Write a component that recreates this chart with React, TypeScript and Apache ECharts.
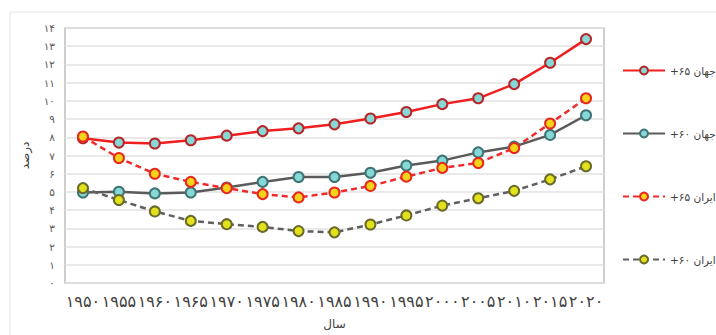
import React, { useEffect, useRef } from "react";
import * as echarts from "echarts";

// Share of elderly population (%), 1950–2020
const years = ["1950", "1955", "1960", "1965", "1970", "1975", "1980", "1985", "1990", "1995", "2000", "2005", "2010", "2015", "2020"];
const world65 = [7.95, 7.71, 7.66, 7.84, 8.09, 8.34, 8.49, 8.71, 9.03, 9.39, 9.82, 10.14, 10.92, 12.09, 13.39];
const world60 = [4.97, 5.01, 4.92, 4.97, 5.24, 5.55, 5.82, 5.82, 6.05, 6.45, 6.72, 7.17, 7.49, 8.13, 9.21];
const iran65 = [8.04, 6.86, 6.0, 5.55, 5.21, 4.88, 4.7, 4.97, 5.33, 5.84, 6.32, 6.59, 7.41, 8.76, 10.14];
const iran60 = [5.21, 4.56, 3.93, 3.41, 3.23, 3.08, 2.85, 2.78, 3.21, 3.71, 4.25, 4.65, 5.06, 5.69, 6.41];

const RLM = "\u200F";
const seriesNames = ["جهان ۶۵+", "جهان ۶۰+", "ایران ۶۵+", "ایران ۶۰+"].map((s) => s + RLM);

const FONT = "'DejaVu Sans', sans-serif";
const faDigits = (v: string | number) =>
  String(v).replace(/[0-9]/g, (d) => "۰۱۲۳۴۵۶۷۸۹"[Number(d)]);

export default function App() {
  const ref = useRef<HTMLDivElement>(null);

  useEffect(() => {
    if (!ref.current) return;
    const chart = echarts.init(ref.current, undefined, { renderer: "svg" });

    const mk = (
      name: string,
      data: number[],
      lineColor: string,
      dashed: boolean,
      fill: string,
      border: string
    ) => ({
      name,
      type: "line",
      data,
      symbol: "circle",
      symbolSize: 10,
      lineStyle: { color: lineColor, width: 2.5, type: dashed ? [6, 4] : "solid" },
      itemStyle: { color: fill, borderColor: border, borderWidth: 2 },
      z: 3,
    });

    chart.setOption({
      animation: false,
      backgroundColor: "#ffffff",
      textStyle: { fontFamily: FONT },
      graphic: [
        {
          type: "rect",
          shape: { x: 10, y: 12, width: 720, height: 340 },
          style: { fill: "none", stroke: "#e3e3e3", lineWidth: 1 },
          silent: true,
        },
      ],
      grid: { left: 65, right: 112, top: 28, bottom: 48, show: true, borderColor: "#bfbfbf", borderWidth: 1.5 },
      legend: {
        orient: "vertical",
        left: 617,
        top: 60,
        itemWidth: 42,
        itemHeight: 10,
        itemGap: 52,
        textStyle: { fontFamily: FONT, fontSize: 10.5, color: "#404040" },
        data: seriesNames,
      },
      xAxis: {
        type: "category",
        data: years,
        boundaryGap: true,
        name: "سال",
        nameLocation: "middle",
        nameGap: 35,
        nameTextStyle: { fontFamily: FONT, fontSize: 12, color: "#404040" },
        axisLine: { show: false },
        axisTick: { show: false },
        axisLabel: {
          interval: 0,
          margin: 10,
          fontSize: 16,
          color: "#404040",
          fontFamily: FONT,
          formatter: (v: string) => faDigits(v),
        },
      },
      yAxis: {
        type: "value",
        min: 0,
        max: 14,
        interval: 1,
        name: "درصد",
        nameLocation: "middle",
        nameGap: 34,
        nameRotate: 90,
        nameTextStyle: { fontFamily: FONT, fontSize: 12, color: "#404040" },
        axisLine: { show: false },
        axisTick: { show: false },
        axisLabel: {
          margin: 10,
          fontSize: 10.5,
          color: "#595959",
          fontFamily: FONT,
          formatter: (v: number) => faDigits(v),
        },
        splitLine: { lineStyle: { color: "#e2e2e2", width: 1.5 } },
      },
      series: [
        mk(seriesNames[0], world65, "#f01e1e", false, "#86d8d6", "#b5262a"),
        mk(seriesNames[1], world60, "#5a5a5a", false, "#86d8d6", "#3f7475"),
        mk(seriesNames[2], iran65, "#f02a2a", true, "#f4d31a", "#e8281e"),
        mk(seriesNames[3], iran60, "#5f5f5f", true, "#e2e21c", "#6a6a2c"),
      ],
    });

    return () => chart.dispose();
  }, []);

  return (
    <div
      ref={ref}
      style={{ position: "fixed", left: 0, top: 0, width: 716, height: 335 }}
    />
  );
}
